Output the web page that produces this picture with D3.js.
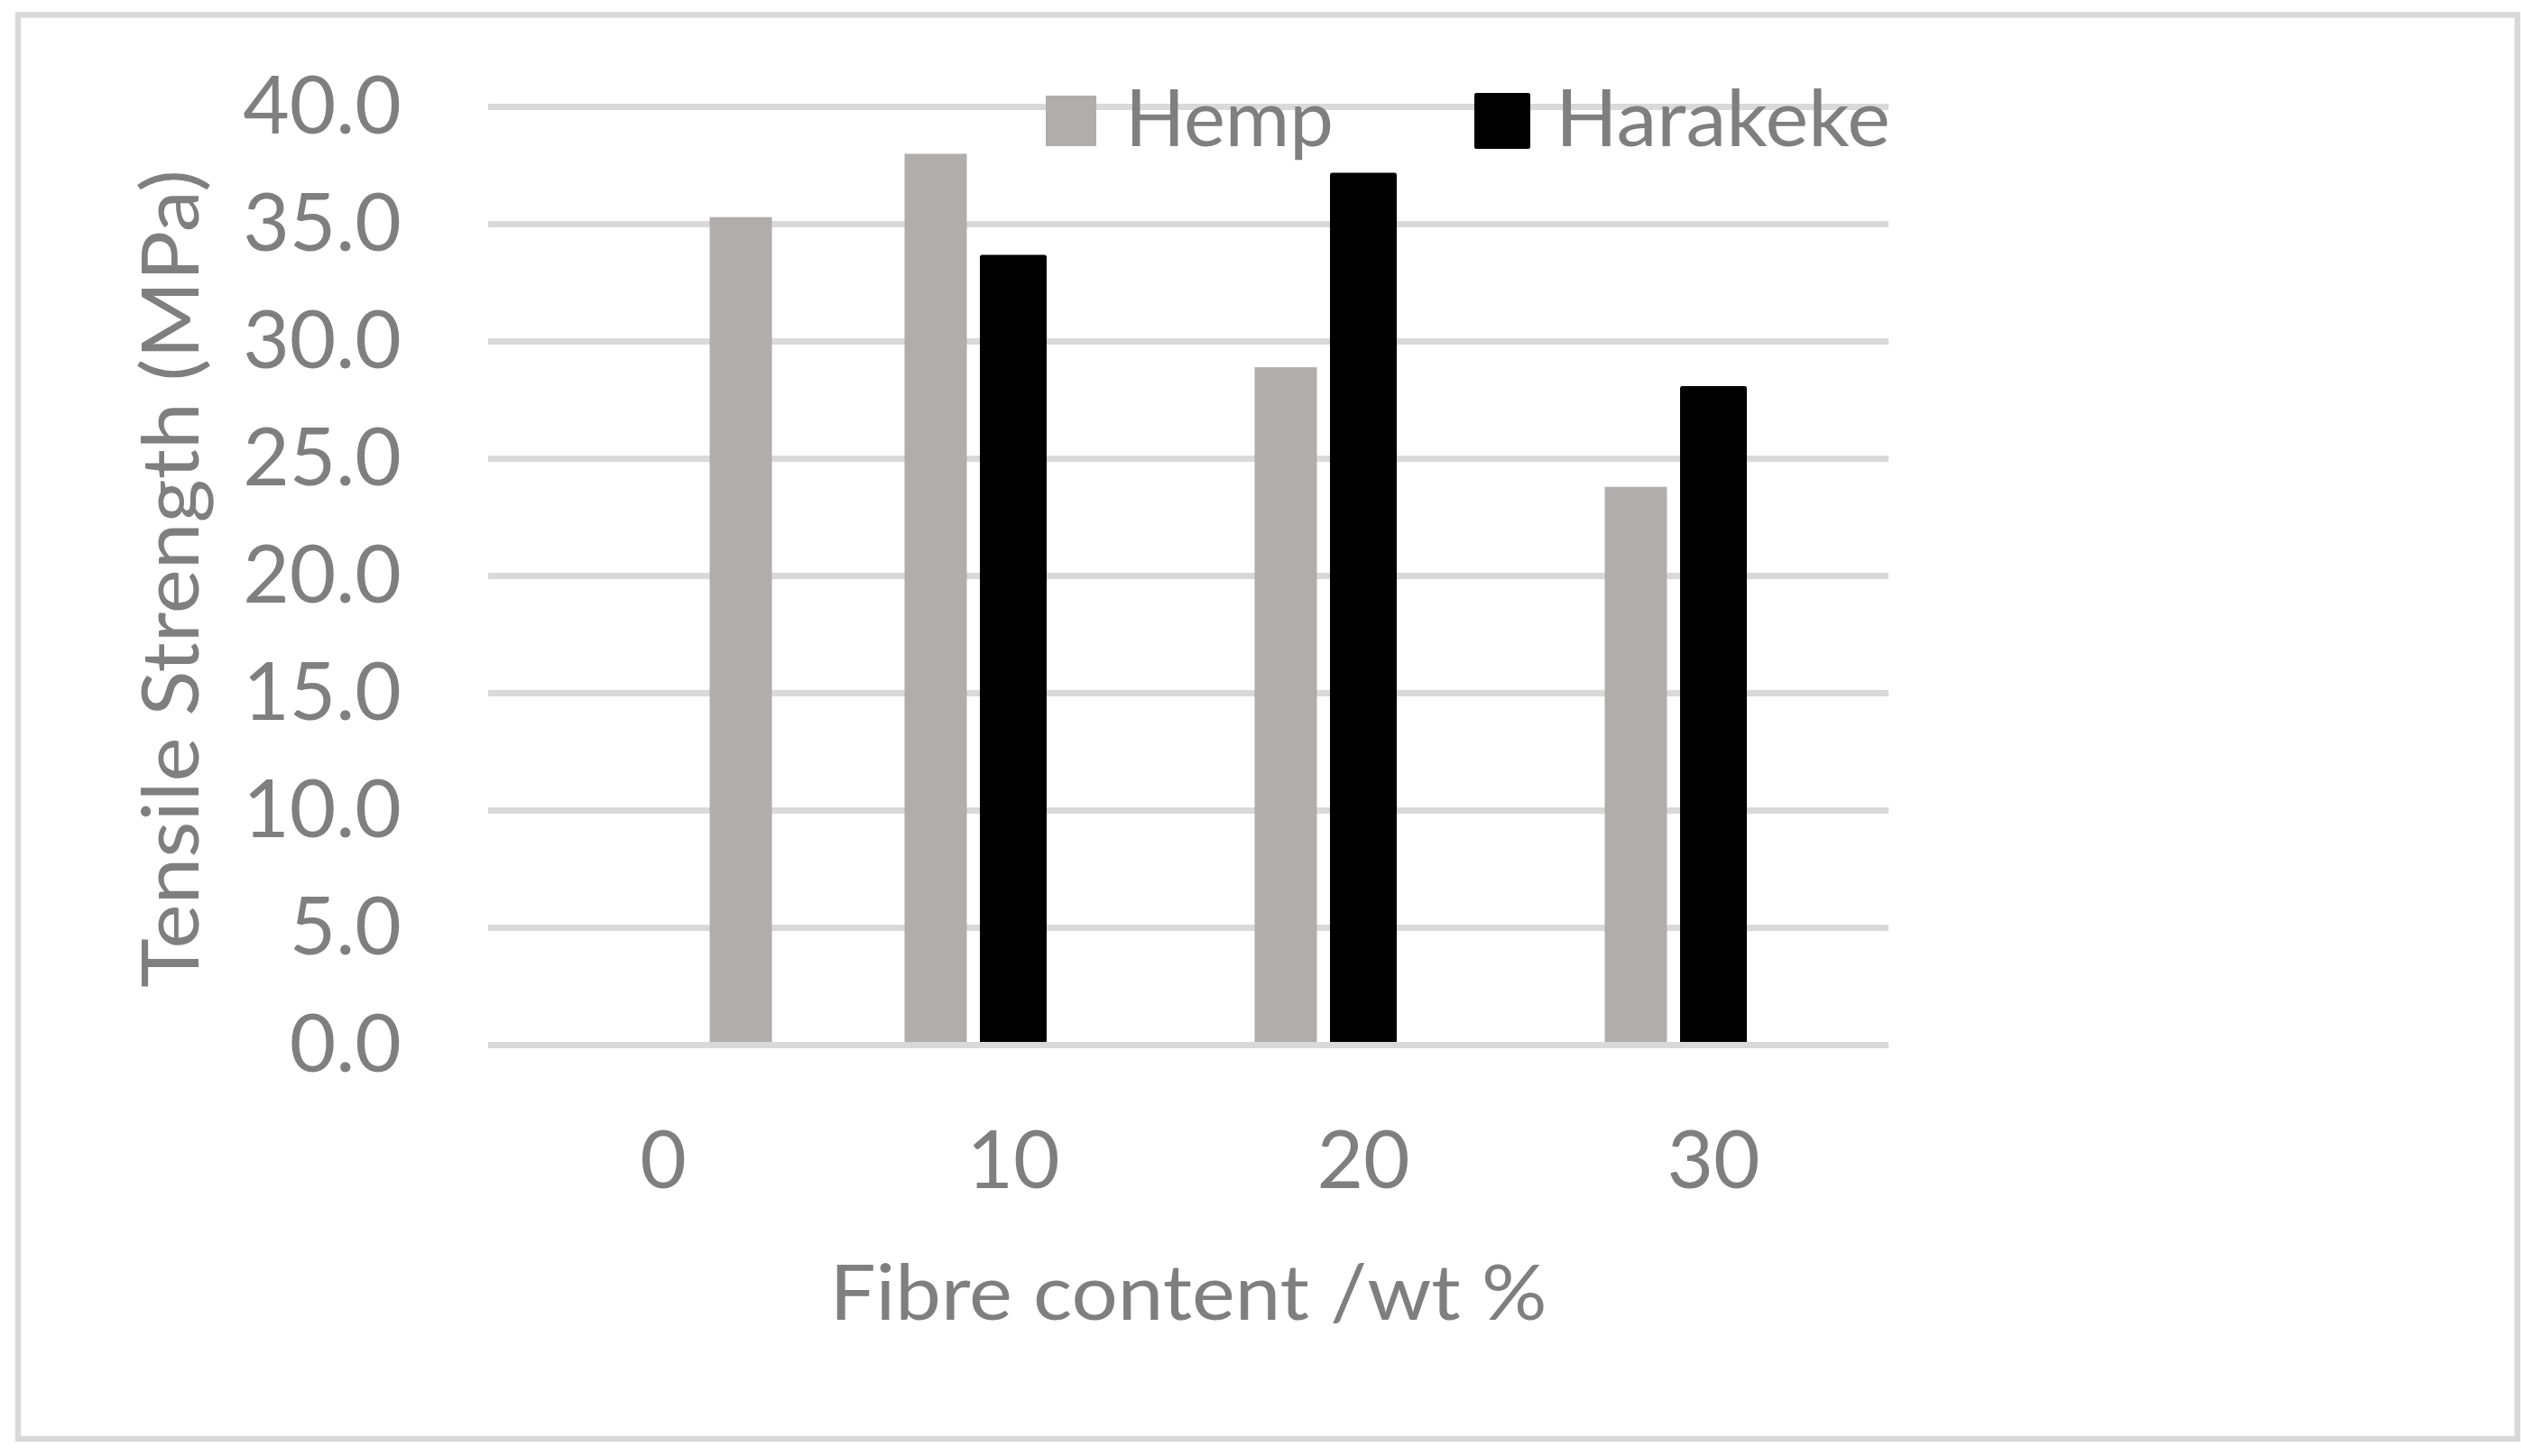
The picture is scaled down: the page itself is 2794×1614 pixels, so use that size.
<!DOCTYPE html>
<html>
<head>
<meta charset="utf-8">
<script src="https://cdn.jsdelivr.net/npm/d3@7"></script>
<style>
  html, body { margin: 0; padding: 0; background: #ffffff; }
  svg { display: block; }
  text { font-family: Lato, "Open Sans", "DejaVu Sans", sans-serif; fill: #7f7f7f; }
</style>
</head>
<body>
<script>
// ---- data ----
const categories = ["0", "10", "20", "30"];          // Fibre content /wt %
const hemp       = [null, 38.0, 28.9, 23.8];          // Hemp (MPa)
const harakeke   = [null, 33.6, 37.1, 28.0];          // Harakeke (MPa)
const neatMatrix = [35.3, null, null, null];          // 0 wt% (unfilled matrix), not in legend
const seriesNames = ["Hemp", "Harakeke", "Matrix"];
const legendNames = ["Hemp", "Harakeke"];
const yTicks = [0, 5, 10, 15, 20, 25, 30, 35, 40];
const xTitle = "Fibre content /wt %";
const yTitle = "Tensile Strength (MPa)";

// ---- layout ----
const W = 2794, H = 1614;
const plot = { left: 541, right: 2093, top: 118.5, bottom: 1158.5 };
const colors = { Hemp: "#b0adac", Harakeke: "#000000", Matrix: "#b0adac" };
const textColor = "#7f7f7f";
const gridColor = "#d9d9d9";

const svg = d3.select("body").append("svg")
  .attr("width", W).attr("height", H);

// chart border
svg.append("rect")
  .attr("x", 20).attr("y", 16.5)
  .attr("width", 2770).attr("height", 1578.5)
  .attr("fill", "#ffffff")
  .attr("stroke", gridColor).attr("stroke-width", 6.5);

const x0 = d3.scaleBand().domain(categories)
  .range([plot.left, plot.right]).paddingInner(0).paddingOuter(0);
const x1 = d3.scaleBand().domain(seriesNames)
  .range([-129, 129]).paddingInner(0.198).paddingOuter(0.099);
const y = d3.scaleLinear().domain([0, 40]).range([plot.bottom, plot.top]);

// gridlines (the zero line is drawn later, over the bars)
svg.append("g").selectAll("line").data(yTicks.filter(d => d !== 0)).join("line")
  .attr("x1", plot.left).attr("x2", plot.right)
  .attr("y1", d => y(d)).attr("y2", d => y(d))
  .attr("stroke", gridColor).attr("stroke-width", 7);

// y axis labels via d3 axis
const yAxis = d3.axisLeft(y).tickValues(yTicks).tickFormat(d3.format(".1f")).tickSize(0).tickPadding(0);
const gy = svg.append("g").attr("transform", "translate(445,0)").call(yAxis);
gy.select(".domain").remove();
gy.selectAll("text")
  .attr("font-size", 89).attr("fill", textColor)
  .attr("font-family", "Lato, 'Open Sans', sans-serif")
  .attr("dy", null).attr("dominant-baseline", "auto")
  .attr("y", 29).attr("x", 0).attr("text-anchor", "end");

// x axis labels via d3 axis
const xAxis = d3.axisBottom(x0).tickSize(0).tickPadding(0);
const gx = svg.append("g").attr("transform", "translate(0,0)").call(xAxis);
gx.select(".domain").remove();
gx.selectAll("text")
  .attr("font-size", 89).attr("fill", textColor)
  .attr("font-family", "Lato, 'Open Sans', sans-serif")
  .attr("dy", null).attr("y", 1317).attr("text-anchor", "middle");

// bars
const seriesData = [
  { name: "Hemp", values: hemp },
  { name: "Harakeke", values: harakeke },
  { name: "Matrix", values: neatMatrix }
];
const barG = svg.append("g");
seriesData.forEach(s => {
  const pts = categories.map((c, i) => ({ c, v: s.values[i] })).filter(d => d.v != null);
  const isBlack = s.name === "Harakeke";
  barG.append("g").selectAll("rect").data(pts).join("rect")
    .attr("x", d => x0(d.c) + x0.bandwidth() / 2 + x1(s.name))
    .attr("width", x1.bandwidth())
    .attr("y", d => y(d.v))
    .attr("height", d => y(0) - y(d.v))
    .attr("fill", colors[s.name])
    .attr("stroke", isBlack ? "#000000" : "none")
    .attr("stroke-width", isBlack ? 5 : 0)
    .attr("stroke-linejoin", "round");
});

// zero line (category axis) over the bars
svg.append("line")
  .attr("x1", plot.left).attr("x2", plot.right)
  .attr("y1", y(0)).attr("y2", y(0))
  .attr("stroke", gridColor).attr("stroke-width", 7);

// legend
const legendPos = { Hemp: { sx: 1159, tx: 1247, tlen: 231 }, Harakeke: { sx: 1636.5, tx: 1724, tlen: 371 } };
const lg = svg.append("g");
legendNames.forEach(n => {
  const p = legendPos[n];
  const isBlack = n === "Harakeke";
  lg.append("rect")
    .attr("x", p.sx).attr("y", isBlack ? 105.5 : 106)
    .attr("width", isBlack ? 57 : 56).attr("height", isBlack ? 57 : 56)
    .attr("fill", colors[n])
    .attr("stroke", isBlack ? "#000" : "none")
    .attr("stroke-width", isBlack ? 5 : 0)
    .attr("stroke-linejoin", "round");
  lg.append("text")
    .attr("x", p.tx).attr("y", 162)
    .attr("font-size", 88).attr("fill", textColor)
    .attr("textLength", p.tlen).attr("lengthAdjust", "spacingAndGlyphs")
    .text(n);
});

// x axis title
svg.append("text")
  .attr("x", (plot.left + plot.right) / 2).attr("y", 1463)
  .attr("text-anchor", "middle")
  .attr("font-size", 86).attr("fill", textColor)
  .attr("textLength", 795).attr("lengthAdjust", "spacingAndGlyphs")
  .text(xTitle);

// y axis title
svg.append("text")
  .attr("transform", "translate(220,641.5) rotate(-90)")
  .attr("text-anchor", "middle")
  .attr("font-size", 88).attr("fill", textColor)
  .attr("textLength", 907).attr("lengthAdjust", "spacingAndGlyphs")
  .text(yTitle);
</script>
</body>
</html>
